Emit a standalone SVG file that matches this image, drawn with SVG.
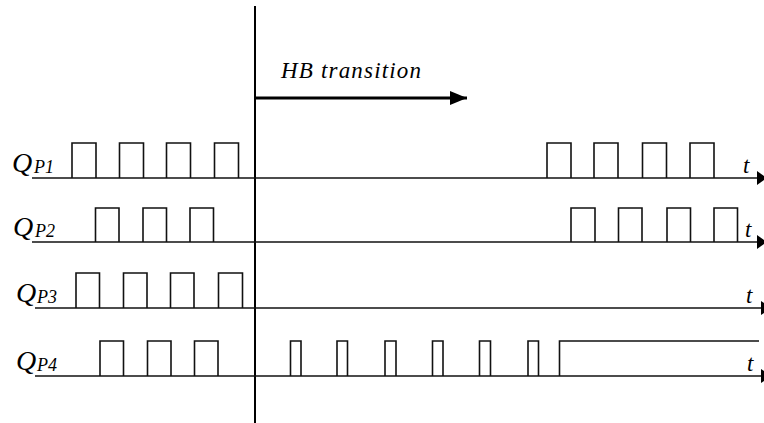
<svg xmlns="http://www.w3.org/2000/svg" width="764" height="423" viewBox="0 0 764 423" font-family="Liberation Serif, Times New Roman, serif" font-style="italic">
  <style>
    .lbl { fill: #000; }
    .q { font-size: 28px; }
    .sub { font-size: 18px; }
    .t { font-size: 23px; }
    .hb { font-size: 23px; }
    .axis { stroke: #111; stroke-width: 1.6; fill: none; }
    .wave { stroke: #111; stroke-width: 1.6; fill: none; stroke-linejoin: miter; }
    .divider { stroke: #000; stroke-width: 2; }
    .dir { stroke: #000; stroke-width: 3; fill: none; }
  </style>
  <defs>
    <marker id="axisHead" markerUnits="userSpaceOnUse" viewBox="0 0 10 14" refX="10" refY="7" markerWidth="10" markerHeight="14" orient="auto">
      <path d="M0,0 L10,7 L0,14 Z" fill="#000"/>
    </marker>
    <marker id="dirHead" markerUnits="userSpaceOnUse" viewBox="0 0 17 14" refX="17" refY="7" markerWidth="17" markerHeight="14" orient="auto">
      <path d="M0,0 L17,7 L0,14 Z" fill="#000"/>
    </marker>
  </defs>

  <g id="connectors">
    <!-- switching instant -->
    <line class="divider" x1="255" y1="6" x2="255" y2="423"/>
    <!-- direction of the HB transition -->
    <line class="dir" x1="255" y1="98" x2="467" y2="98" marker-end="url(#dirHead)"/>
    <text class="lbl hb" x="281" y="78" textLength="140" lengthAdjust="spacing">HB transition</text>
  </g>

  <!-- QP1 -->
  <g id="qp1">
    <line class="axis" x1="32" y1="178" x2="767" y2="178" marker-end="url(#axisHead)"/>
    <path class="wave" d="M72,178 V143 H96 V178 M119.5,178 V143 H143.5 V178 M166.5,178 V143 H190.5 V178 M214.5,178 V143 H238.5 V178 M547,178 V143 H571 V178 M594,178 V143 H618 V178 M642.5,178 V143 H666.5 V178 M690,178 V143 H714 V178"/>
    <text class="lbl q" x="12" y="172">Q</text>
    <text class="lbl sub" x="34" y="173">P1</text>
    <text class="lbl t" x="743" y="173">t</text>
  </g>

  <!-- QP2 -->
  <g id="qp2">
    <line class="axis" x1="32" y1="242" x2="767" y2="242" marker-end="url(#axisHead)"/>
    <path class="wave" d="M95.5,242 V208 H119 V242 M143,242 V208 H166.5 V242 M190,242 V208 H213.5 V242 M571,242 V208 H595 V242 M618.5,242 V208 H642 V242 M667,242 V208 H690.5 V242 M714,242 V208 H737.5 V242"/>
    <text class="lbl q" x="13" y="236">Q</text>
    <text class="lbl sub" x="35" y="237">P2</text>
    <text class="lbl t" x="745" y="237">t</text>
  </g>

  <!-- QP3 -->
  <g id="qp3">
    <line class="axis" x1="35" y1="308" x2="771" y2="308" marker-end="url(#axisHead)"/>
    <path class="wave" d="M76,308 V273 H99.5 V308 M123.5,308 V273 H147 V308 M170.5,308 V273 H194 V308 M218.5,308 V273 H242.5 V308"/>
    <text class="lbl q" x="16" y="302">Q</text>
    <text class="lbl sub" x="37" y="303">P3</text>
    <text class="lbl t" x="746" y="303">t</text>
  </g>

  <!-- QP4 -->
  <g id="qp4">
    <line class="axis" x1="35" y1="376" x2="771" y2="376" marker-end="url(#axisHead)"/>
    <path class="wave" d="M100,376 V341 H123.5 V376 M147.5,376 V341 H171 V376 M194.5,376 V341 H218 V376 M290.5,376 V341 H301 V376 M337,376 V341 H347.5 V376 M385,376 V341 H396 V376 M432.5,376 V341 H443 V376 M479.5,376 V341 H490.5 V376 M528,376 V341 H538.5 V376 M559.5,376 V341 H759"/>
    <text class="lbl q" x="16" y="370">Q</text>
    <text class="lbl sub" x="37" y="371">P4</text>
    <text class="lbl t" x="747" y="371">t</text>
  </g>
</svg>
